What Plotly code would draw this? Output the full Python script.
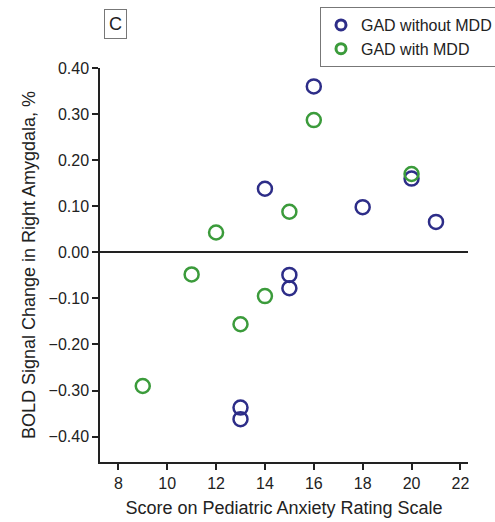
import plotly.graph_objects as go

# PARS scores and right-amygdala BOLD change (%) per group
gad_only_score = [16, 14, 18, 20, 21, 15, 15, 13, 13]
gad_only_bold = [0.36, 0.138, 0.098, 0.160, 0.066, -0.049, -0.078, -0.337, -0.362]

gad_mdd_score = [16, 20, 15, 12, 11, 14, 13, 9]
gad_mdd_bold = [0.287, 0.170, 0.088, 0.043, -0.048, -0.095, -0.156, -0.290]

x_ticks = [8, 10, 12, 14, 16, 18, 20, 22]
y_ticks = [0.40, 0.30, 0.20, 0.10, 0.0, -0.10, -0.20, -0.30, -0.40]
y_tick_text = ["0.40", "0.30", "0.20", "0.10", "0.00", "−0.10", "−0.20", "−0.30", "−0.40"]

BLUE = "#2d2d88"
GREEN = "#3b9b3b"
FONT = "Liberation Sans Narrow, Arial Narrow, Liberation Sans, sans-serif"

fig = go.Figure()
groups = [
    ("GAD without MDD", gad_only_score, gad_only_bold, BLUE),
    ("GAD with MDD", gad_mdd_score, gad_mdd_bold, GREEN),
]
for name, xs, ys, col in groups:
    fig.add_trace(go.Scatter(
        x=xs, y=ys, mode="markers", name=name, showlegend=False,
        marker=dict(symbol="circle-open", size=14, color=col, line=dict(width=2.5, color=col)),
    ))
# smaller, heavier circles for the legend keys
for name, xs, ys, col in groups:
    fig.add_trace(go.Scatter(
        x=[None], y=[None], mode="markers", name=name, showlegend=True,
        marker=dict(symbol="circle-open", size=10, color=col, line=dict(width=3, color=col)),
    ))

fig.update_layout(
    width=495, height=522,
    margin=dict(l=100, r=27, t=68, b=60, autoexpand=False),
    paper_bgcolor="white", plot_bgcolor="white",
    font=dict(family=FONT, size=16, color="#222"),
    showlegend=True,
    legend=dict(
        x=(320 - 100) / 368, y=(462 - 7) / 394, xanchor="left", yanchor="top",
        bordercolor="#777", borderwidth=1, bgcolor="white",
        font=dict(family=FONT, size=16, color="#222"),
        itemwidth=30, tracegroupgap=0,
    ),
    xaxis=dict(
        range=[7.25, 22.31], tickvals=x_ticks,
        showline=True, linecolor="#222", linewidth=1.5,
        ticks="outside", ticklen=6, tickwidth=1.5, tickcolor="#222",
        showgrid=False, zeroline=False,
        title=dict(text="Score on Pediatric Anxiety Rating Scale", standoff=10,
                   font=dict(family=FONT, size=18)),
        tickfont=dict(family=FONT, size=16),
    ),
    yaxis=dict(
        range=[-0.455, 0.40], tickvals=y_ticks, ticktext=y_tick_text,
        showline=True, linecolor="#222", linewidth=1.5,
        ticks="outside", ticklen=6, tickwidth=1.5, tickcolor="#222",
        showgrid=False, zeroline=True, zerolinecolor="#222", zerolinewidth=1.5,
        title=dict(text="BOLD Signal Change in Right Amygdala, %", standoff=8,
                   font=dict(family=FONT, size=18)),
        tickfont=dict(family=FONT, size=16),
    ),
    annotations=[dict(
        text="C", xref="paper", yref="paper",
        x=(115 - 100) / 368, y=(462 - 24) / 394, xanchor="center", yanchor="middle",
        showarrow=False, font=dict(family=FONT, size=18, color="#222"),
        bordercolor="#777", borderwidth=1, borderpad=4, bgcolor="white",
    )],
)

fig.write_html("out.html")
